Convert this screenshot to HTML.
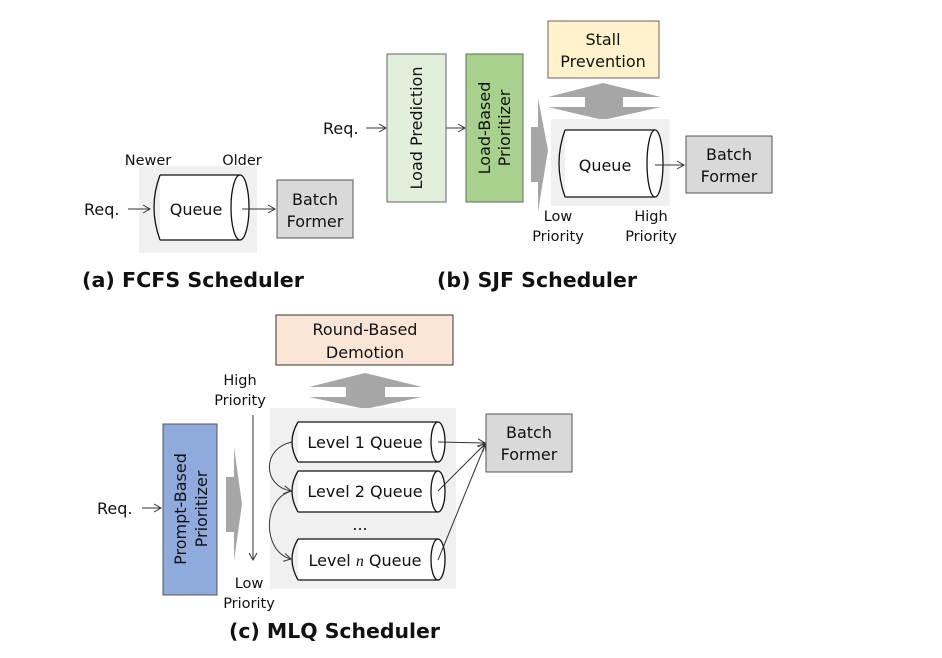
<!DOCTYPE html>
<html><head><meta charset="utf-8"><style>
html,body{margin:0;padding:0;background:#fff;}
svg{display:block;font-family:"DejaVu Sans","Liberation Sans",sans-serif;}
</style></head><body>
<svg width="942" height="658" viewBox="0 0 942 658" xmlns="http://www.w3.org/2000/svg">
<defs>
<marker id="a" markerWidth="10" markerHeight="10" refX="8" refY="5" orient="auto" markerUnits="userSpaceOnUse">
<path d="M1,1 L8,5 L1,9" fill="none" stroke="#333" stroke-width="1"/></marker>
</defs>
<g font-size="16" fill="#111">
<!-- (a) FCFS -->
<rect x="139" y="166" width="118" height="87" fill="#f0f0f0"/>
<rect x="160" y="175.6" width="80" height="63.8" fill="#fff"/>
<path d="M160,175 L240,175 M160,240 L240,240 M160,175 Q148,207 160,240" stroke="#111" stroke-width="1.3" fill="none"/>
<ellipse cx="240" cy="207.5" rx="9" ry="32.5" fill="#fff" stroke="#111" stroke-width="1.3"/>
<text x="196" y="215" text-anchor="middle">Queue</text>
<text x="84" y="215">Req.</text>
<line x1="128" y1="209" x2="150" y2="209" stroke="#333" marker-end="url(#a)"/>
<text x="148" y="165" text-anchor="middle" font-size="14.5">Newer</text>
<text x="242" y="165" text-anchor="middle" font-size="14.5">Older</text>
<line x1="242" y1="209" x2="275" y2="209" stroke="#333" marker-end="url(#a)"/>
<rect x="277" y="180" width="76" height="58" fill="#d9d9d9" stroke="#555"/>
<text x="315" y="205" text-anchor="middle">Batch</text>
<text x="315" y="227" text-anchor="middle">Former</text>
<text x="82" y="287" font-size="20" font-weight="bold" textLength="222" lengthAdjust="spacingAndGlyphs">(a) FCFS Scheduler</text>

<!-- (b) SJF -->
<text x="323" y="134">Req.</text>
<line x1="366" y1="128" x2="386" y2="128" stroke="#333" marker-end="url(#a)"/>
<rect x="387" y="54" width="59" height="148" fill="#e2efda" stroke="#666"/>
<text transform="translate(422,128) rotate(-90)" text-anchor="middle">Load Prediction</text>
<line x1="446" y1="128" x2="465" y2="128" stroke="#333" marker-end="url(#a)"/>
<rect x="466" y="54" width="57" height="148" fill="#a9d18e" stroke="#666"/>
<text transform="translate(490,128) rotate(-90)" text-anchor="middle">Load-Based</text>
<text transform="translate(510,128) rotate(-90)" text-anchor="middle">Prioritizer</text>
<polygon points="531,127 538,127 538,98 548,150 538,212 538,182 531,182" fill="#a6a6a6"/>
<rect x="548" y="21" width="111" height="57" fill="#fff2cc" stroke="#666"/>
<text x="603" y="45" text-anchor="middle">Stall</text>
<text x="603" y="67" text-anchor="middle">Prevention</text>
<polygon points="603,83 661,97 623,97 623,107 661,107 603,120 548,107 585,107 585,97 548,97" fill="#a6a6a6"/>
<rect x="551" y="119" width="119" height="87" fill="#f0f0f0"/>
<rect x="565" y="130" width="90" height="67" fill="#fff"/>
<path d="M565,130 L655,130 M565,197 L655,197 M565,130 Q553,163 565,197" stroke="#111" stroke-width="1.3" fill="none"/>
<ellipse cx="655" cy="163.5" rx="8" ry="33.5" fill="#fff" stroke="#111" stroke-width="1.3"/>
<text x="605" y="171" text-anchor="middle">Queue</text>
<line x1="655" y1="165" x2="684" y2="165" stroke="#333" marker-end="url(#a)"/>
<rect x="686" y="136" width="86" height="57" fill="#d9d9d9" stroke="#555"/>
<text x="729" y="160" text-anchor="middle">Batch</text>
<text x="729" y="182" text-anchor="middle">Former</text>
<g font-size="14.5"><text x="558" y="221" text-anchor="middle">Low</text>
<text x="558" y="241" text-anchor="middle">Priority</text>
<text x="651" y="221" text-anchor="middle">High</text>
<text x="651" y="241" text-anchor="middle">Priority</text></g>
<text x="437" y="287" font-size="20" font-weight="bold" textLength="200" lengthAdjust="spacingAndGlyphs">(b) SJF Scheduler</text>

<!-- (c) MLQ -->
<rect x="276" y="315" width="177" height="50" fill="#fbe5d6" stroke="#333"/>
<text x="365" y="335" text-anchor="middle">Round-Based</text>
<text x="365" y="358" text-anchor="middle">Demotion</text>
<polygon points="365,373 422,387 385,387 385,397 422,397 365,409 309,397 346,397 346,387 309,387" fill="#a6a6a6"/>
<g font-size="14.5"><text x="240" y="385" text-anchor="middle">High</text>
<text x="240" y="405" text-anchor="middle">Priority</text>
<text x="249" y="588" text-anchor="middle">Low</text>
<text x="249" y="608" text-anchor="middle">Priority</text></g>
<line x1="253" y1="415" x2="253" y2="560" stroke="#333" marker-end="url(#a)"/>
<rect x="270" y="408" width="186" height="181" fill="#f0f0f0"/>
<rect x="163" y="424" width="54" height="171" fill="#8faadc" stroke="#555"/>
<text transform="translate(186,509) rotate(-90)" text-anchor="middle">Prompt-Based</text>
<text transform="translate(207,509) rotate(-90)" text-anchor="middle">Prioritizer</text>
<polygon points="226,477 234,477 234,447 242,504 234,561 234,532 226,532" fill="#a6a6a6"/>
<text x="97" y="514">Req.</text>
<line x1="142" y1="508" x2="161" y2="508" stroke="#333" marker-end="url(#a)"/>
<g stroke="#111" stroke-width="1.3">
<rect x="298" y="422" width="140" height="40" fill="#fff" stroke="none"/>
<path d="M298,422 L438,422 M298,462 L438,462 M298,422 Q286,442 298,462" fill="none"/>
<ellipse cx="438" cy="442" rx="7" ry="20" fill="#fff"/>
<rect x="298" y="471" width="140" height="41" fill="#fff" stroke="none"/>
<path d="M298,471 L438,471 M298,512 L438,512 M298,471 Q286,491 298,512" fill="none"/>
<ellipse cx="438" cy="491.5" rx="7" ry="20.5" fill="#fff"/>
<rect x="298" y="539" width="140" height="41" fill="#fff" stroke="none"/>
<path d="M298,539 L438,539 M298,580 L438,580 M298,539 Q286,559 298,580" fill="none"/>
<ellipse cx="438" cy="559.5" rx="7" ry="20.5" fill="#fff"/>
</g>
<text x="365" y="448" text-anchor="middle">Level 1 Queue</text>
<text x="365" y="497" text-anchor="middle">Level 2 Queue</text>
<text x="365" y="566" text-anchor="middle">Level <tspan font-family="Liberation Serif,serif" font-style="italic">n</tspan> Queue</text>
<text x="360" y="530" text-anchor="middle">...</text>
<g stroke="#333" fill="none">
<path d="M292,442 C262,448 262,486 291,491" marker-end="url(#a)"/>
<path d="M292,491 C262,498 262,552 291,559" marker-end="url(#a)"/>
<line x1="438" y1="442" x2="485" y2="443" marker-end="url(#a)"/>
<line x1="438" y1="491" x2="485" y2="444" marker-end="url(#a)"/>
<line x1="438" y1="560" x2="485" y2="445" marker-end="url(#a)"/>
</g>
<rect x="486" y="414" width="86" height="58" fill="#d9d9d9" stroke="#555"/>
<text x="529" y="438" text-anchor="middle">Batch</text>
<text x="529" y="460" text-anchor="middle">Former</text>
<text x="229" y="638" font-size="20" font-weight="bold" textLength="211" lengthAdjust="spacingAndGlyphs">(c) MLQ Scheduler</text>
</g>
</svg>
</body></html>
